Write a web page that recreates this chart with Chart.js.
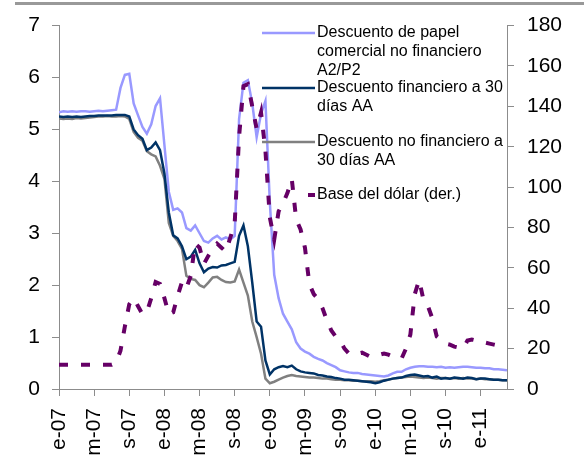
<!DOCTYPE html>
<html>
<head>
<meta charset="utf-8">
<script src="https://cdn.jsdelivr.net/npm/chart.js@4/dist/chart.umd.min.js"></script>
<style>
  body { margin: 0; background: #fff; }
  #wrap { position: relative; width: 584px; height: 459px; }
  #topline { position: absolute; left: 15px; right: 0; top: 2px; height: 3px; background: #999; }
</style>
</head>
<body>
<div id="wrap">
  <canvas id="chart" width="584" height="459"></canvas>
  <div id="topline"></div>
</div>
<script>
// meses desde enero 2007, cada medio mes
const meses = Array.from({ length: 103 }, (_, i) => i / 2);
const etiquetas = ['e-07', 'm-07', 's-07', 'e-08', 'm-08', 's-08', 'e-09', 'm-09', 's-09', 'e-10', 'm-10', 's-10', 'e-11'];

const papel = [
  5.33, 5.35, 5.34, 5.35, 5.34, 5.35, 5.35, 5.34, 5.35, 5.36,
  5.35, 5.36, 5.37, 5.38, 5.8, 6.05, 6.07, 5.5, 5.27, 5.05,
  4.92, 5.1, 5.45, 5.6, 4.7, 3.8, 3.45, 3.48, 3.4, 3.1,
  3.05, 3.15, 3.0, 2.85, 2.82, 2.9, 2.95, 2.88, 2.92, 2.88,
  2.95, 5.2, 5.9, 5.95, 5.5, 4.85, 5.3, 5.55, 3.6, 2.2,
  1.75, 1.45, 1.3, 1.15, 0.9, 0.78, 0.72, 0.68, 0.62, 0.58,
  0.55, 0.5, 0.46, 0.42, 0.36, 0.34, 0.32, 0.31, 0.31, 0.29,
  0.28, 0.27, 0.26, 0.25, 0.24, 0.26, 0.3, 0.33, 0.33, 0.38,
  0.41, 0.43, 0.44, 0.44, 0.43, 0.43, 0.42, 0.43, 0.41, 0.42,
  0.41, 0.42, 0.43, 0.43, 0.42, 0.41, 0.41, 0.40, 0.40, 0.38,
  0.38, 0.37, 0.36
];

const financiero = [
  5.25, 5.24, 5.25, 5.24, 5.25, 5.24, 5.25, 5.26, 5.26, 5.27,
  5.27, 5.27, 5.27, 5.28, 5.28, 5.28, 5.25, 5.0, 4.89, 4.82,
  4.6, 4.65, 4.75, 4.6, 4.15, 3.4, 2.96, 2.9, 2.75, 2.5,
  2.55, 2.68, 2.42, 2.25, 2.32, 2.35, 2.34, 2.38, 2.39, 2.42,
  2.45, 2.95, 3.15, 2.75, 2.05, 1.3, 1.2, 0.55, 0.28, 0.38,
  0.42, 0.44, 0.42, 0.45, 0.38, 0.34, 0.32, 0.31, 0.3, 0.27,
  0.26, 0.24, 0.23, 0.21, 0.2, 0.18, 0.18, 0.17, 0.16, 0.15,
  0.14, 0.13, 0.11, 0.13, 0.16, 0.18, 0.2, 0.21, 0.22, 0.25,
  0.27, 0.28, 0.26, 0.24, 0.25, 0.22, 0.24, 0.2, 0.21, 0.2,
  0.22, 0.21, 0.2, 0.22, 0.21, 0.19, 0.2, 0.2, 0.19, 0.18,
  0.18, 0.17, 0.17
];

const noFinanciero = [
  5.21, 5.2, 5.21, 5.2, 5.22, 5.21, 5.22, 5.23, 5.24, 5.25,
  5.25, 5.26, 5.25, 5.25, 5.26, 5.25, 5.2, 4.95, 4.84, 4.78,
  4.58, 4.52, 4.48, 4.3, 4.05, 3.2, 2.95, 2.85, 2.7, 2.18,
  2.12, 2.1, 2.0, 1.96, 2.05, 2.15, 2.16, 2.1, 2.06, 2.05,
  2.07, 2.3, 2.05, 1.8, 1.3, 1.0, 0.68, 0.2, 0.11, 0.14,
  0.18, 0.22, 0.25, 0.27, 0.25, 0.24, 0.23, 0.22, 0.22, 0.21,
  0.2, 0.2, 0.19, 0.18, 0.18, 0.17, 0.17, 0.16, 0.16, 0.15,
  0.15, 0.15, 0.14, 0.15, 0.17, 0.18, 0.2, 0.21, 0.22, 0.23,
  0.24, 0.23, 0.22, 0.21, 0.22, 0.21, 0.2, 0.21, 0.21, 0.2,
  0.21, 0.2, 0.21, 0.2, 0.2, 0.19, 0.2, 0.19, 0.19, 0.18,
  0.18, 0.17, 0.17
];

const baseDolar = [
  12, 12, 12, 12, 12, 12, 12, 12, 12, 12,
  12, 12, 12, 13, 19, 31, 42, 45, 41, 37,
  38, 45, 53, 52, 45, 37, 38, 46, 53, 50,
  56, 72, 70, 62, 66, 69, 72, 70, 68, 75,
  82, 125, 150, 151, 140, 129, 137, 118, 85, 74,
  88, 92, 97, 104, 84, 79, 70, 52, 47, 44.5,
  40, 34, 29, 26, 24, 20, 17.6, 17, 17.5, 18,
  17, 15.9, 16.5, 17, 17.6, 17, 16, 15.5, 15.1, 20,
  27, 47, 54, 44, 41, 35, 26, 24, 22.5, 22,
  21, 20.5, 20, 24, 24.5, 24, 24, 23, 22.5, 22,
  21.5, 21, 21
];

const fuente = "'Liberation Sans', Arial, sans-serif";
const gris = '#8c8c8c';

function puntos(valores) {
  return meses.map((m, i) => ({ x: m, y: valores[i] }));
}

const leyenda = [
  { lineas: ['Descuento de papel', 'comercial no financiero', 'A2/P2'], color: '#9999ff', y: 33 },
  { lineas: ['Descuento financiero a 30', 'días AA'], color: '#003366', y: 88 },
  { lineas: ['Descuento no financiero a', '30 días AA'], color: '#808080', y: 142 },
  { lineas: ['Base del dólar (der.)'], color: '#660066', y: 195, corto: true }
];

const leyendaPlugin = {
  id: 'leyenda',
  afterDraw(chart) {
    const ctx = chart.ctx;
    ctx.save();
    ctx.font = '16px ' + fuente;
    ctx.textBaseline = 'middle';
    ctx.fillStyle = '#000';
    leyenda.forEach(item => {
      ctx.strokeStyle = item.color;
      ctx.beginPath();
      if (item.corto) {
        ctx.lineWidth = 4;
        ctx.moveTo(308, item.y);
        ctx.lineTo(315, item.y);
      } else {
        ctx.lineWidth = 2.5;
        ctx.moveTo(262, item.y);
        ctx.lineTo(315, item.y);
      }
      ctx.stroke();
      item.lineas.forEach((t, k) => ctx.fillText(t, 317, item.y + k * 19));
    });
    ctx.restore();
  }
};

new Chart(document.getElementById('chart'), {
  type: 'line',
  data: {
    datasets: [
      { label: 'Base del dólar (der.)', data: puntos(baseDolar), yAxisID: 'y2', borderColor: '#660066', borderWidth: 4, borderDash: [9, 13], borderCapStyle: 'butt', order: 0 },
      { label: 'Descuento financiero a 30 días AA', data: puntos(financiero), yAxisID: 'y', borderColor: '#003366', borderWidth: 2.5, order: 1 },
      { label: 'Descuento no financiero a 30 días AA', data: puntos(noFinanciero), yAxisID: 'y', borderColor: '#808080', borderWidth: 2.5, order: 2 },
      { label: 'Descuento de papel comercial no financiero A2/P2', data: puntos(papel), yAxisID: 'y', borderColor: '#9999ff', borderWidth: 2.5, order: 3 }
    ]
  },
  options: {
    responsive: false,
    animation: false,
    layout: { padding: { top: 23, left: 0, right: 0, bottom: 0 } },
    plugins: { legend: { display: false }, tooltip: { enabled: false } },
    elements: { point: { radius: 0 }, line: { tension: 0, fill: false } },
    scales: {
      x: {
        type: 'linear',
        min: 0,
        max: 51,
        afterBuildTicks: s => { s.ticks = s.ticks.filter(t => t.value % 4 === 0 && t.value <= 48); },
        afterFit: s => { s.height = 70; },
        ticks: {
          stepSize: 4,
          autoSkip: false,
          maxRotation: 90,
          minRotation: 90,
          padding: 12,
          color: '#000',
          font: { family: fuente, size: 21 },
          callback: v => etiquetas[v / 4]
        },
        grid: { drawOnChartArea: false, tickLength: 7, color: gris },
        border: { color: gris }
      },
      y: {
        position: 'left',
        min: 0,
        max: 7,
        afterFit: s => { s.width = 59; },
        ticks: { stepSize: 1, padding: 12, color: '#000', font: { family: fuente, size: 21 } },
        grid: { drawOnChartArea: false, tickLength: 7, color: gris },
        border: { color: gris }
      },
      y2: {
        position: 'right',
        min: 0,
        max: 180,
        afterFit: s => { s.width = 77; },
        ticks: { stepSize: 20, padding: 13, color: '#000', font: { family: fuente, size: 21 } },
        grid: { drawOnChartArea: false, tickLength: 7, color: gris },
        border: { color: gris }
      }
    }
  },
  plugins: [leyendaPlugin]
});
</script>
</body>
</html>
